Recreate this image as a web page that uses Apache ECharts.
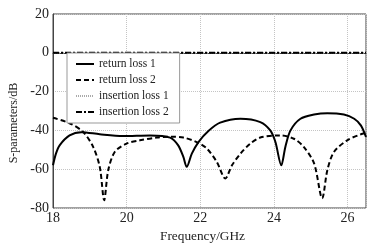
<!DOCTYPE html>
<html>
<head>
<meta charset="utf-8">
<script src="https://cdn.jsdelivr.net/npm/echarts@6/dist/echarts.min.js"></script>
<style>
  html, body { margin: 0; padding: 0; background: #fff; }
  #chart { width: 375px; height: 250px; }
</style>
</head>
<body>
<div id="chart"></div>
<script>
// values
var freq_rl1 = [18, 18.08, 18.18, 18.45, 18.77, 19.27, 19.9, 20.64, 21.18, 21.4, 21.54, 21.63, 21.77, 21.95, 22.22, 22.54, 23.09, 23.63, 23.9, 24.04, 24.2, 24.31, 24.45, 24.72, 25.09, 25.45, 25.9, 26.18, 26.36, 26.5];
var val_rl1  = [-58, -52, -47.7, -42.6, -40.9, -42, -42.9, -42.6, -43.7, -47.7, -53.7, -58.8, -52, -46, -40.3, -36, -34, -35.7, -40, -46, -58, -48.5, -40, -34, -31.8, -31.1, -31.8, -34, -37.4, -43.4];

var freq_rl2 = [18, 18.45, 18.82, 19.09, 19.27, 19.39, 19.5, 19.68, 20.0, 20.36, 20.82, 21.2, 21.54, 21.9, 22.18, 22.45, 22.68, 22.86, 23.09, 23.36, 23.63, 24.18, 24.54, 24.81, 25.09, 25.31, 25.45, 25.63, 25.99, 26.36, 26.5];
var val_rl2  = [-33.5, -36.3, -40.8, -48.5, -58.8, -76, -60.5, -51, -46.8, -45.1, -43.7, -43.3, -43.7, -46, -49.4, -56.3, -64.8, -58, -52, -46.8, -43.7, -42.6, -44.3, -48.5, -57, -75, -60.5, -51.1, -45.1, -42, -41.2];

var freq_il = [18, 26.5];
var val_il1 = [0, 0];
var val_il2 = [0, 0];

var names = ['return loss 1', 'return loss 2', 'insertion loss 1', 'insertion loss 2'];

function pairs(xs, ys) {
  var out = [];
  for (var i = 0; i < xs.length; i++) out.push([xs[i], ys[i]]);
  return out;
}

var chart = echarts.init(document.getElementById('chart'));
var font = 'Liberation Serif';

var option = {
  animation: false,
  textStyle: { fontFamily: font },
  grid: {
    left: 53, right: 9, top: 14, bottom: 42,
    outerBoundsMode: 'none',
    show: true, borderColor: '#444', borderWidth: 1
  },
  legend: {
    orient: 'vertical',
    left: 67, top: 53,
    itemWidth: 18, itemHeight: 10, itemGap: 4,
    padding: [5, 11, 5, 8],
    backgroundColor: '#fff',
    borderColor: '#999', borderWidth: 1,
    itemStyle: { opacity: 0 },  // hide the symbol dot, keep the line sample
    textStyle: { fontFamily: font, fontSize: 11.5, color: '#222' },
    data: names
  },
  xAxis: {
    type: 'value',
    min: 18, max: 26.5, interval: 2,
    name: 'Frequency/GHz',
    nameLocation: 'middle', nameGap: 21,
    nameTextStyle: { fontFamily: font, fontSize: 13.3, color: '#222', padding: [0, 14, 0, 0] },
    axisLine: { show: true, lineStyle: { color: '#444' } },
    axisTick: { show: false },
    axisLabel: { fontFamily: font, fontSize: 14, color: '#222', margin: 3, showMaxLabel: false },
    splitLine: { show: true, lineStyle: { color: '#c4c4c4', type: 'dotted' } }
  },
  yAxis: {
    type: 'value',
    min: -80, max: 20, interval: 20,
    name: 'S-parameters/dB',
    nameLocation: 'middle', nameGap: 32,
    nameTextStyle: { fontFamily: font, fontSize: 12, color: '#222', padding: [0, 24, 0, 0] },
    axisLine: { show: true, lineStyle: { color: '#444' } },
    axisTick: { show: false },
    axisLabel: { fontFamily: font, fontSize: 14, color: '#222', margin: 4 },
    splitLine: { show: true, lineStyle: { color: '#c4c4c4', type: 'dotted' } }
  },
  series: [
    {
      name: names[0], type: 'line', showSymbol: false, symbol: 'none', smooth: 0.3,
      data: pairs(freq_rl1, val_rl1),
      lineStyle: { color: '#000', width: 2, type: 'solid' },
      itemStyle: { color: '#000' }
    },
    {
      name: names[1], type: 'line', showSymbol: false, symbol: 'none', smooth: 0.3,
      data: pairs(freq_rl2, val_rl2),
      lineStyle: { color: '#000', width: 2, type: [5, 3] },
      itemStyle: { color: '#000' }
    },
    {
      name: names[2], type: 'line', showSymbol: false, symbol: 'none',
      data: pairs(freq_il, val_il1),
      lineStyle: { color: '#aaa', width: 1.5, type: [1, 1] },
      itemStyle: { color: '#aaa' }
    },
    {
      name: names[3], type: 'line', showSymbol: false, symbol: 'none',
      data: pairs(freq_il, val_il2),
      lineStyle: { color: '#000', width: 2, type: [6, 2, 2, 2] },
      itemStyle: { color: '#000' }
    }
  ]
};

chart.setOption(option);
</script>
</body>
</html>
